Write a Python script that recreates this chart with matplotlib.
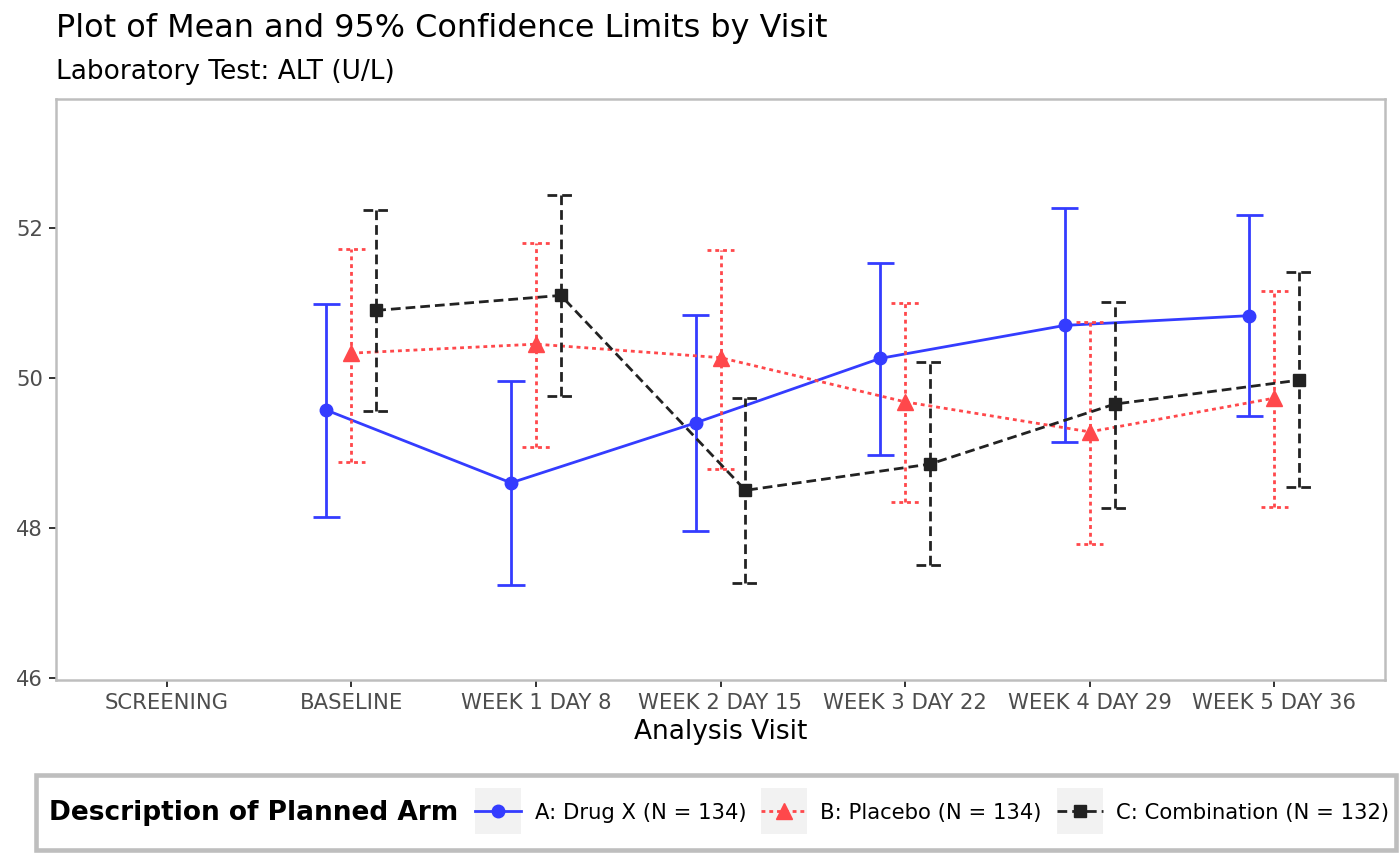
import matplotlib.pyplot as plt
from matplotlib.lines import Line2D
from matplotlib.patches import Patch, Rectangle
from matplotlib.legend_handler import HandlerTuple, HandlerPatch
import numpy as np

visits = [
    "SCREENING",
    "BASELINE",
    "WEEK 1 DAY 8",
    "WEEK 2 DAY 15",
    "WEEK 3 DAY 22",
    "WEEK 4 DAY 29",
    "WEEK 5 DAY 36",
]
# visits with data (screening has none)
data_visits = visits[1:]

arm_labels = [
    "A: Drug X (N = 134)",
    "B: Placebo (N = 134)",
    "C: Combination (N = 132)",
]

a_mean = [49.57, 48.60, 49.40, 50.26, 50.70, 50.83]
a_lo = [48.15, 47.24, 47.96, 48.97, 49.14, 49.49]
a_hi = [50.99, 49.96, 50.84, 51.53, 52.26, 52.17]

b_mean = [50.33, 50.45, 50.27, 49.68, 49.28, 49.73]
b_lo = [48.88, 49.08, 48.78, 48.35, 47.78, 48.28]
b_hi = [51.72, 51.80, 51.70, 51.00, 50.74, 51.16]

c_mean = [50.90, 51.10, 48.50, 48.85, 49.65, 49.97]
c_lo = [49.56, 49.76, 47.26, 47.50, 48.27, 48.55]
c_hi = [52.24, 52.44, 49.73, 50.21, 51.01, 51.41]

COLORS = ["#343CFF", "#FF484B", "#222222"]
MARKERS = ["o", "^", "s"]
MSIZES = [9, 11, 8.5]
LSTYLES = ["-", (0, (1.4, 1.4)), (0, (3.5, 1.8))]
LW = 2.0
DODGE = 0.135
CAP = 0.074
BASE = 19
KEY_H = 33.0  # key background height, points


def key_box(legend, orig_handle, xdescent, ydescent, width, height, fontsize):
    # grey key square centred on the legend line
    yc = (height - ydescent) / 2
    return Rectangle((-xdescent, yc - KEY_H / 2), width, KEY_H)


def main():
    fig = plt.figure(figsize=(14, 8.65), dpi=100)
    ax = fig.add_axes([56 / 1400, 1 - 680 / 865, (1385 - 56) / 1400, (680 - 99) / 865])

    series = [
        (a_mean, a_lo, a_hi),
        (b_mean, b_lo, b_hi),
        (c_mean, c_lo, c_hi),
    ]
    pos = np.array([visits.index(v) + 1 for v in data_visits], dtype=float)

    handles = []
    for i, (mean, lo, hi) in enumerate(series):
        x = pos + (i - 1) * DODGE
        col = COLORS[i]
        ls = LSTYLES[i]
        ax.vlines(x, lo, hi, colors=col, linestyles=ls, lw=LW, zorder=2 + i)
        ax.hlines(lo, x - CAP, x + CAP, colors=col, linestyles=ls, lw=LW, zorder=2 + i)
        ax.hlines(hi, x - CAP, x + CAP, colors=col, linestyles=ls, lw=LW, zorder=2 + i)
        ax.plot(x, mean, color=col, ls=ls, lw=LW, marker=MARKERS[i],
                ms=MSIZES[i], mec=col, mfc=col, zorder=3 + i)
        key_line = Line2D([], [], color=col, ls=ls, lw=LW, marker=MARKERS[i],
                          ms=MSIZES[i], mec=col, mfc=col)
        key_bg = Patch(facecolor="#F2F2F2", edgecolor="none")
        handles.append((key_bg, key_line))

    ax.set_xlim(0.4, 7.6)
    ax.set_ylim(45.97, 53.72)
    ax.set_xticks(np.arange(1, len(visits) + 1))
    ax.set_xticklabels(visits)
    ax.set_yticks([46, 48, 50, 52])

    for side in ax.spines.values():
        side.set_color("#BEBEBE")
        side.set_linewidth(1.8)
    ax.tick_params(colors="#333333", labelcolor="#4D4D4D", labelsize=BASE * 0.8,
                   length=5, width=1.4, pad=4.5)
    ax.set_xlabel("Analysis Visit", fontsize=BASE, labelpad=4)

    fig.text(56 / 1400, 1 - 37 / 865, "Plot of Mean and 95% Confidence Limits by Visit",
             fontsize=BASE * 1.21, va="baseline", ha="left")
    fig.text(56 / 1400, 1 - 79 / 865, "Laboratory Test: ALT (U/L)",
             fontsize=BASE, va="baseline", ha="left")

    # legend box
    fig.patches.append(Rectangle((35.5 / 1400, 1 - 849.5 / 865), (1396 - 35.5) / 1400,
                                 74.5 / 865, transform=fig.transFigure,
                                 facecolor="white", edgecolor="#BEBEBE", lw=3.3,
                                 zorder=0))
    fig.text(49 / 1400, 1 - 813 / 865, "Description of Planned Arm",
             fontsize=BASE, fontweight="bold", va="center", ha="left")
    fig.legend(handles, arm_labels, ncol=3, loc="center left",
               bbox_to_anchor=(475 / 1400, 1 - 813 / 865), frameon=False,
               fontsize=BASE * 0.8, handlelength=2.2, handleheight=0.8,
               handletextpad=0.62, columnspacing=0.7, borderpad=0,
               borderaxespad=0,
               handler_map={tuple: HandlerTuple(ndivide=1, pad=0),
                            Patch: HandlerPatch(patch_func=key_box)})

    fig.savefig("out.png", dpi=100)


if __name__ == "__main__":
    main()
